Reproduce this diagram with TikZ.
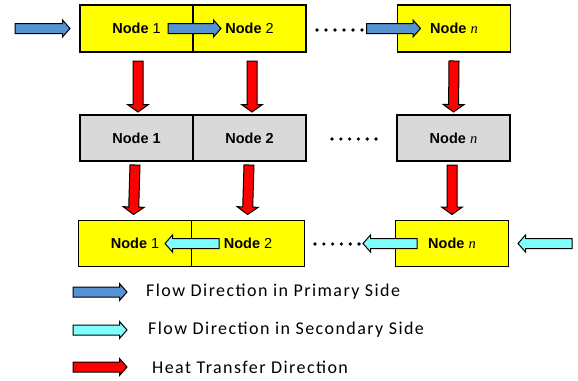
\documentclass[tikz,border=0pt]{standalone}
\usepackage{fontspec}
\setmainfont{Liberation Sans}
\newfontfamily\nserif{Liberation Serif}
\newfontfamily\legendfont[LetterSpace=8]{Carlito}
\usetikzlibrary{positioning,calc}

\definecolor{boxyellow}{RGB}{255,255,0}
\definecolor{boxgray}{RGB}{217,217,217}
\definecolor{primblue}{RGB}{85,146,210}
\definecolor{seccyan}{RGB}{128,255,255}
\definecolor{heatred}{RGB}{255,0,0}

% block arrow: from, to, fill, head half width
\newcommand{\blockarrow}[4]{%
  \draw[barrow, fill=#3] let \p1=(#1), \p2=(#2), \n1={veclen(\x2-\x1,\y2-\y1)},
      \n2={(\x2-\x1)/\n1}, \n3={(\y2-\y1)/\n1}, \p3=({\x2-7.5*\n2},{\y2-7.5*\n3}) in
    ({\x1-5*\n3},{\y1+5*\n2}) -- ({\x3-5*\n3},{\y3+5*\n2}) -- ({\x3-#4*\n3},{\y3+#4*\n2}) -- (\p2)
    -- ({\x3+#4*\n3},{\y3-#4*\n2}) -- ({\x3+5*\n3},{\y3-5*\n2}) -- ({\x1+5*\n3},{\y1-5*\n2}) -- cycle;}

\begin{document}
\begin{tikzpicture}[x=1pt, y=-1pt,
  cell/.style  = {draw, line width=1.3pt, minimum width=113pt, minimum height=46pt, inner sep=0pt, outer sep=0pt,
                  font=\fontsize{14.5}{17}\selectfont},
  ycell/.style = {cell, fill=boxyellow},
  gcell/.style = {cell, fill=boxgray},
  barrow/.style = {line width=1pt, line join=miter},
  legtext/.style = {anchor=west, inner sep=0pt, font=\legendfont\fontsize{18}{21}\selectfont}]

\useasboundingbox (0,0) rectangle (578,380);

% rows of nodes
\node[ycell, minimum height=47pt] (t1) at (136.5,28.5) {\textbf{Node} 1};
\node[ycell, minimum height=47pt, right=0pt of t1] (t2) {\textbf{Node} 2};
\node[ycell, minimum height=47pt] (tn) at (454,28.5) {\textbf{Node} {\nserif\itshape n}};

\node[gcell] (m1) at (136.5,138) {\textbf{Node 1}};
\node[gcell, right=0pt of m1] (m2) {\textbf{Node 2}};
\node[gcell] (mn) at (453.5,138) {\textbf{Node} {\nserif\itshape n}};

\node[ycell] (b1) at (135,243.5) {\textbf{Node} 1};
\node[ycell, right=0pt of b1] (b2) {\textbf{Node} 2};
\node[ycell] (bn) at (452,243.5) {\textbf{Node} {\nserif\itshape n}};

% dots
\foreach \i in {0,...,5} {
  \fill (317+9*\i,30) circle (1.8);
  \fill (332+8.8*\i,139) circle (1.8);
  \fill (315+8.8*\i,244) circle (1.8);
}

% heat transfer
\coordinate (h1a) at ([xshift=1.5pt, yshift=-9pt]t1.south);
\coordinate (h1b) at ([xshift=1.5pt, yshift=3pt]m1.north);
\coordinate (h2a) at ([xshift=2.5pt, yshift=-9pt]t2.south);
\coordinate (h2b) at ([xshift=2.5pt, yshift=3pt]m2.north);
\coordinate (hna) at (tn.south |- h1a);
\coordinate (hnb) at (mn.north |- h1b);
\coordinate (k1a) at ([xshift=-1.5pt, yshift=-4pt]m1.south);
\coordinate (k1b) at ([xshift=-1.5pt, yshift=6pt]b1.north);
\coordinate (k2a) at ([xshift=-0.5pt, yshift=-4pt]m2.south);
\coordinate (k2b) at ([xshift=-0.5pt, yshift=6pt]b2.north);
\coordinate (kna) at ([xshift=-1.5pt, yshift=-4pt]mn.south);
\coordinate (knb) at (kna |- k1b);
\foreach \a/\b in {h1a/h1b, h2a/h2b, hna/hnb, k1a/k1b, k2a/k2b, kna/knb}
  \blockarrow{\a}{\b}{heatred}{10.5};

% primary side flow
\coordinate (pin) at (15,28.5);
\coordinate (pina) at ([xshift=-10pt]t1.west);
\coordinate (p12a) at ([xshift=-25pt]t1.east);
\coordinate (p12b) at ([xshift=28pt]t2.west);
\coordinate (pna) at ([xshift=-31pt]tn.west);
\coordinate (pnb) at ([xshift=23pt]tn.west);
\foreach \a/\b in {pin/pina, p12a/p12b, pna/pnb}
  \blockarrow{\a}{\b}{primblue}{8.5};

% secondary side flow
\coordinate (sin) at (572,243.5);
\coordinate (sina) at ([xshift=9.5pt]bn.east);
\coordinate (snb) at ([xshift=21.5pt]bn.west);
\coordinate (sna) at ([xshift=-32.5pt]bn.west);
\coordinate (s21b) at ([xshift=27.5pt]b2.west);
\coordinate (s21a) at ([xshift=-26.5pt]b2.west);
\foreach \a/\b in {sin/sina, snb/sna, s21b/s21a}
  \blockarrow{\a}{\b}{seccyan}{8.5};

% legend
\coordinate (la1) at (73,292);  \coordinate (lb1) at (127,292);
\coordinate (la2) at (73,330);  \coordinate (lb2) at (127,330);
\coordinate (la3) at (73,367);  \coordinate (lb3) at (127,367);
\blockarrow{la1}{lb1}{primblue}{8.5};
\blockarrow{la2}{lb2}{seccyan}{8.5};
\blockarrow{la3}{lb3}{heatred}{8.5};
\node[legtext] (lg1) at (146,292) {Flow Direction in Primary Side};
\node[legtext] (lg2) at (148,330) {Flow Direction in Secondary Side};
\node[legtext] (lg3) at (152,367) {Heat Transfer Direction};
\end{tikzpicture}
\end{document}
